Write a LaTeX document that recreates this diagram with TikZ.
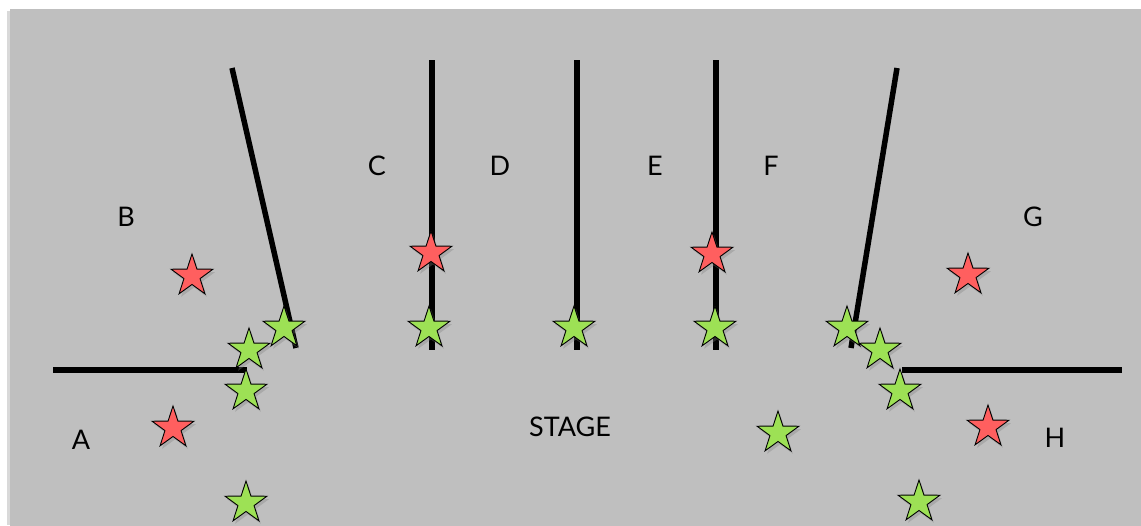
\documentclass[tikz,border=0pt]{standalone}
\usepackage{fontspec}
\setmainfont{Lato}
\usetikzlibrary{shapes.geometric,shadows}
\definecolor{bg}{HTML}{BFBFBF}
\definecolor{redstar}{HTML}{FF5F5F}
\definecolor{greenstar}{HTML}{9DE155}
\tikzset{
  wall/.style={line width=5.5pt},
  starbase/.style={star, star points=5, star point ratio=2.6, minimum size=44pt, inner sep=0pt, draw=black, line width=0.9pt, drop shadow={opacity=0.35, shadow xshift=2pt, shadow yshift=-3pt}},
  rstar/.style={starbase, fill=redstar},
  gstar/.style={starbase, fill=greenstar},
  lbl/.style={font=\fontsize{27}{32}\selectfont, text=black}
}
\begin{document}
\begin{tikzpicture}[x=1pt,y=-1pt]
\useasboundingbox (0,0) rectangle (1141,525);
\fill[black, opacity=0.15] (7,11) rectangle (1141,525);
\fill[bg] (10,9) rectangle (1141,526);
% walls
\draw[wall] (53,370) -- (247,370);
\draw[wall] (232,68) -- (296,348);
\draw[wall] (432,60) -- (432,350);
\draw[wall] (577,60) -- (577,350);
\draw[wall] (716,60) -- (716,350);
\draw[wall] (897,68) -- (851,348);
\draw[wall] (902,370) -- (1122,370);
% red stars
\node[rstar] (r1) at (192,276) {};
\node[rstar] (r2) at (431,253) {};
\node[rstar] (r3) at (173,428) {};
\node[rstar] (r4) at (712,254) {};
\node[rstar] (r5) at (968,275) {};
\node[rstar] (r6) at (988,427) {};
% green stars
\node[gstar] (g1) at (284,328) {};
\node[gstar] (g2) at (249,350) {};
\node[gstar] (g3) at (246,391) {};
\node[gstar] (g4) at (246,503) {};
\node[gstar] (g5) at (429,328) {};
\node[gstar] (g6) at (574,328) {};
\node[gstar] (g7) at (715,328) {};
\node[gstar] (g8) at (847,328) {};
\node[gstar] (g9) at (880,350) {};
\node[gstar] (g10) at (900,391) {};
\node[gstar] (g11) at (778,433) {};
\node[gstar] (g12) at (919,502) {};
% labels
\node[lbl] (A) at (81,440) {A};
\node[lbl] (B) at (126,217) {B};
\node[lbl] (C) at (377,166) {C};
\node[lbl] (D) at (500,166) {D};
\node[lbl] (E) at (655,166) {E};
\node[lbl] (F) at (771,166) {F};
\node[lbl] (G) at (1033,217) {G};
\node[lbl] (H) at (1055,438) {H};
\node[lbl] (stage) at (570,427) {STAGE};
\end{tikzpicture}
\end{document}
